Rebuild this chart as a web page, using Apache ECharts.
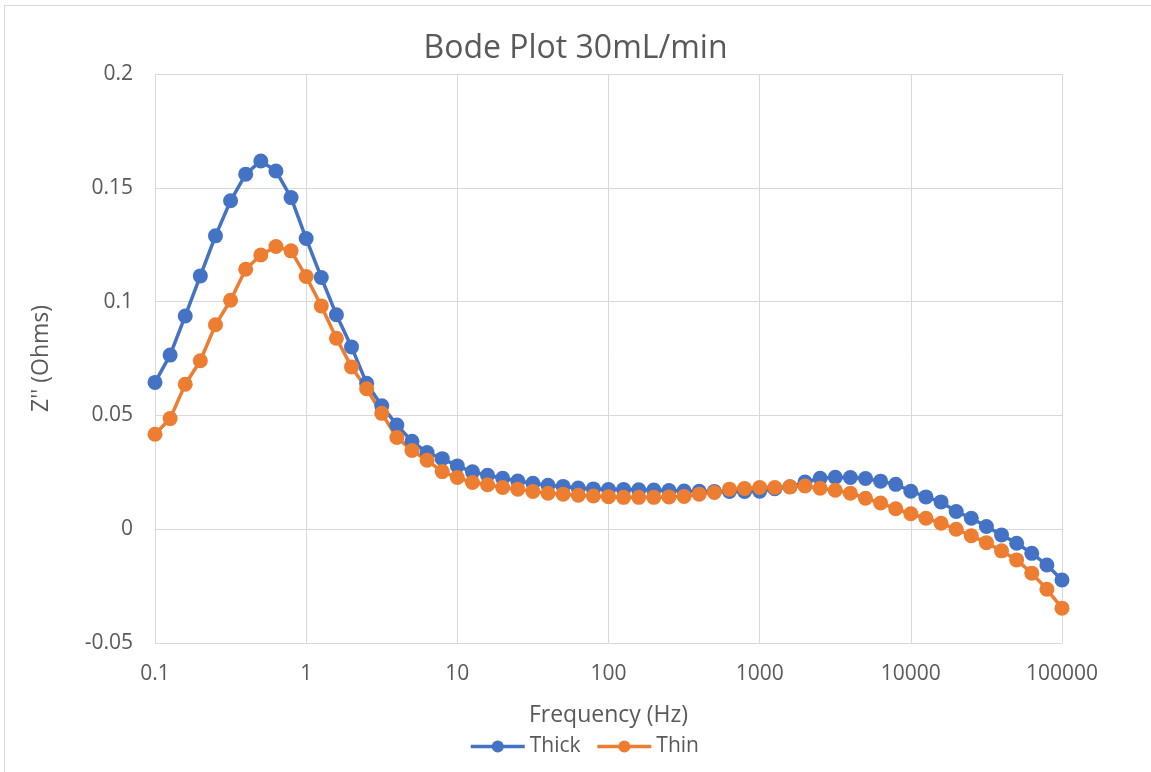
<!DOCTYPE html>
<html>
<head>
<meta charset="utf-8">
<script src="https://cdn.jsdelivr.net/npm/echarts@6/dist/echarts.min.js"></script>
<style>
  html, body { margin: 0; padding: 0; background: #fff; }
  #chart { width: 1151px; height: 772px; }
  .frame { position: absolute; left: 4px; top: 5px; width: 1200px; height: 900px; border: 1.5px solid #d9d9d9; pointer-events: none; }
</style>
</head>
<body>
<div id="chart"></div>
<div class="frame"></div>
<script>
// frequency points, 10 per decade
var freq = [
  0.1, 0.1259, 0.1585, 0.1995, 0.2512, 0.3162, 0.3981, 0.5012, 0.631, 0.7943,
  1, 1.259, 1.585, 1.995, 2.512, 3.162, 3.981, 5.012, 6.31, 7.943,
  10, 12.59, 15.85, 19.95, 25.12, 31.62, 39.81, 50.12, 63.1, 79.43,
  100, 125.9, 158.5, 199.5, 251.2, 316.2, 398.1, 501.2, 631, 794.3,
  1000, 1259, 1585, 1995, 2512, 3162, 3981, 5012, 6310, 7943,
  10000, 12589, 15849, 19953, 25119, 31623, 39811, 50119, 63096, 79433,
  100000
]
var thick = [
  0.0645, 0.0765, 0.0937, 0.1113, 0.1289, 0.1443, 0.156, 0.1618, 0.1574, 0.1457,
  0.1277, 0.1106, 0.0942, 0.0801, 0.0641, 0.0542, 0.0458, 0.0386, 0.0337, 0.031,
  0.0278, 0.0252, 0.0237, 0.0224, 0.0212, 0.0202, 0.0193, 0.0188, 0.0181, 0.0177,
  0.0174, 0.0174, 0.0173, 0.0172, 0.017, 0.0168, 0.0167, 0.0166, 0.0166, 0.0166,
  0.0167, 0.0178, 0.0186, 0.0207, 0.0224, 0.0228, 0.0227, 0.0223, 0.0211, 0.0197,
  0.0167, 0.0142, 0.012, 0.0078, 0.0048, 0.0012, -0.0025, -0.0062, -0.0106, -0.0157,
  -0.0223
]
var thin = [
  0.0417, 0.0486, 0.0637, 0.074, 0.0898, 0.1006, 0.1142, 0.1205, 0.1242, 0.1223,
  0.111, 0.0981, 0.0839, 0.0713, 0.0617, 0.0509, 0.0403, 0.0346, 0.0303, 0.0253,
  0.0227, 0.0205, 0.0195, 0.0183, 0.0176, 0.0166, 0.0158, 0.0154, 0.0149, 0.0146,
  0.0143, 0.014, 0.014, 0.014, 0.0142, 0.0144, 0.0154, 0.0161, 0.0176, 0.0179,
  0.0183, 0.0183, 0.0186, 0.019, 0.018, 0.0171, 0.0158, 0.0136, 0.0115, 0.009,
  0.0068, 0.0048, 0.0026, 0.0, -0.0029, -0.0059, -0.0095, -0.0135, -0.0193, -0.0264,
  -0.0347
]

var font = '"Open Sans", "Noto Sans", sans-serif'
var textColor = '#595959'
var gridColor = '#d9d9d9'

function pairs (ys) {
  return freq.map(function (f, i) { return [f, ys[i]] })
}

function makeSeries (name, ys, color) {
  return {
    name: name,
    type: 'line',
    data: pairs(ys),
    symbol: 'circle',
    symbolSize: 15,
    showSymbol: true,
    itemStyle: { color: color },
    lineStyle: { color: color, width: 3.5 },
    emphasis: { disabled: true },
    animation: false
  }
}

var myChart = echarts.init(document.getElementById('chart'))
myChart.setOption({
  backgroundColor: '#fff',
  title: {
    text: 'Bode Plot 30mL/min',
    left: 'center',
    top: 28,
    textStyle: { fontFamily: font, fontSize: 32, fontWeight: 'normal', color: textColor }
  },
  legend: {
    top: 731,
    left: 464,
    itemWidth: 54,
    itemHeight: 15,
    itemGap: 15,
    lineStyle: { width: 3.5 },
    textStyle: { fontFamily: font, fontSize: 21, color: textColor },
    data: ['Thick', 'Thin']
  },
  grid: { left: 155, right: 89, top: 74, bottom: 129 },
  xAxis: {
    type: 'log',
    logBase: 10,
    min: 0.1,
    max: 100000,
    name: 'Frequency (Hz)',
    nameLocation: 'middle',
    nameGap: 61,
    nameTextStyle: { fontFamily: font, fontSize: 23, color: textColor },
    axisLine: { show: true, lineStyle: { color: gridColor, width: 1 } },
    axisTick: { show: false },
    axisLabel: {
      margin: 21,
      fontFamily: font,
      fontSize: 21,
      color: textColor,
      formatter: function (v) { return String(Number(v.toPrecision(6))) }
    },
    splitLine: { show: true, lineStyle: { color: gridColor, width: 1 } },
    minorTick: { show: false }
  },
  yAxis: {
    type: 'value',
    min: -0.05,
    max: 0.2,
    interval: 0.05,
    name: "Z'' (Ohms)",
    nameLocation: 'middle',
    nameGap: 102,
    nameTextStyle: { fontFamily: font, fontSize: 23, color: textColor },
    axisLine: { show: true, lineStyle: { color: gridColor, width: 1 } },
    axisTick: { show: false },
    axisLabel: {
      margin: 22,
      fontFamily: font,
      fontSize: 21,
      color: textColor,
      formatter: function (v) { return String(parseFloat(v.toFixed(2))) }
    },
    splitLine: { show: true, lineStyle: { color: gridColor, width: 1 } }
  },
  series: [
    makeSeries('Thick', thick, '#4472C4'),
    makeSeries('Thin', thin, '#ED7D31')
  ]
})
</script>
</body>
</html>
